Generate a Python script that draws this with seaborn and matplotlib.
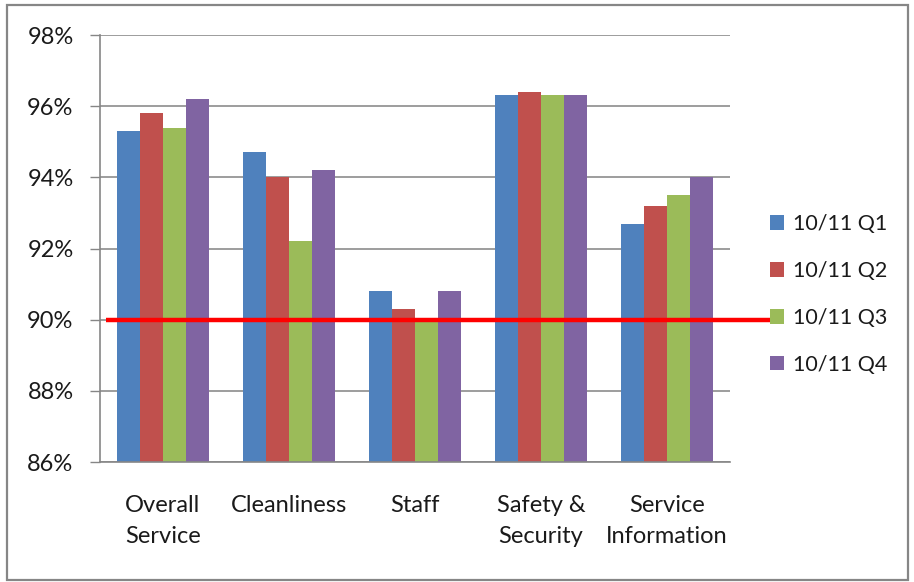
import matplotlib
matplotlib.use("Agg")
import matplotlib.pyplot as plt
from matplotlib.patches import Rectangle, Patch
from matplotlib.ticker import FuncFormatter
import seaborn as sns
import pandas as pd

# Survey categories and quarterly satisfaction scores (%)
categories = ["Overall\nService", "Cleanliness", "Staff", "Safety &\nSecurity", "Service\nInformation"]
quarters = ["10/11 Q1", "10/11 Q2", "10/11 Q3", "10/11 Q4"]
q1 = [95.3, 94.7, 90.8, 96.3, 92.7]
q2 = [95.8, 94.0, 90.3, 96.4, 93.2]
q3 = [95.4, 92.2, 90.0, 96.3, 93.5]
q4 = [96.2, 94.2, 90.8, 96.3, 94.0]
target = 90
y_ticks = [86, 88, 90, 92, 94, 96, 98]

colors = ["#4F81BD", "#C0504D", "#9BBB59", "#8064A2"]

rows = []
for q, vals in zip(quarters, [q1, q2, q3, q4]):
    for c, v in zip(categories, vals):
        rows.append({"category": c, "quarter": q, "score": v})
df = pd.DataFrame(rows)

sns.set_style("white")
plt.rcParams["font.family"] = ["Lato", "DejaVu Sans"]

W, H = 914, 582
fig = plt.figure(figsize=(W / 100, H / 100), dpi=100)
ax = fig.add_axes([100 / W, 1 - 462 / H, 630 / W, 427 / H])

sns.barplot(data=df, x="category", y="score", hue="quarter", order=categories,
            hue_order=quarters, palette=colors, width=0.73, gap=0,
            saturation=1, legend=False, ax=ax, edgecolor="none", zorder=2)

ax.set_ylim(86, 98)
ax.set_yticks(y_ticks)
ax.yaxis.set_major_formatter(FuncFormatter(lambda v, p: f"{v:.0f}%"))
ax.set_xlim(-0.5, len(categories) - 0.5)
ax.set_xlabel("")
ax.set_ylabel("")

# category boundary tick marks
ax.set_xticks([i + 0.5 for i in range(-1, len(categories))], minor=True)
ax.tick_params(axis="x", which="minor", length=8, width=1, color="#868686", direction="out")
ax.tick_params(axis="x", which="major", length=0, pad=24, labelsize=17, labelcolor="#1a1a1a")
ax.tick_params(axis="y", length=7, width=1, color="#868686", direction="out",
               pad=12, labelsize=17, labelcolor="#1a1a1a", left=True)
for lbl in ax.get_xticklabels():
    lbl.set_linespacing(1.55)

ax.grid(axis="y", color="#8c8c8c", linewidth=1.2, zorder=0)
ax.set_axisbelow(True)
for side in ["top", "right"]:
    ax.spines[side].set_visible(False)
for side in ["left", "bottom"]:
    ax.spines[side].set_color("#868686")
    ax.spines[side].set_linewidth(1.2)

# 90% target line running out towards the legend
ax.plot([6 / 630, 670 / 630], [target, target], color="#ff0000", linewidth=3.2,
        transform=ax.get_yaxis_transform(), clip_on=False, zorder=5,
        solid_capstyle="butt")

handles = [Patch(facecolor=c, edgecolor="none") for c in colors]
fig.legend(handles, quarters, loc="center left", bbox_to_anchor=(770 / W, 1 - 294.5 / H),
           frameon=False, fontsize=15.5, handlelength=0.65, handleheight=0.65,
           handletextpad=0.4, labelspacing=1.25, borderpad=0, borderaxespad=0,
           labelcolor="#1a1a1a")

# chart frame
fig.patches.append(Rectangle((7 / W, 2 / H), 901 / W, 575 / H, transform=fig.transFigure,
                             fill=False, edgecolor="#868686", linewidth=1.6))

fig.savefig("out.png", dpi=100)
